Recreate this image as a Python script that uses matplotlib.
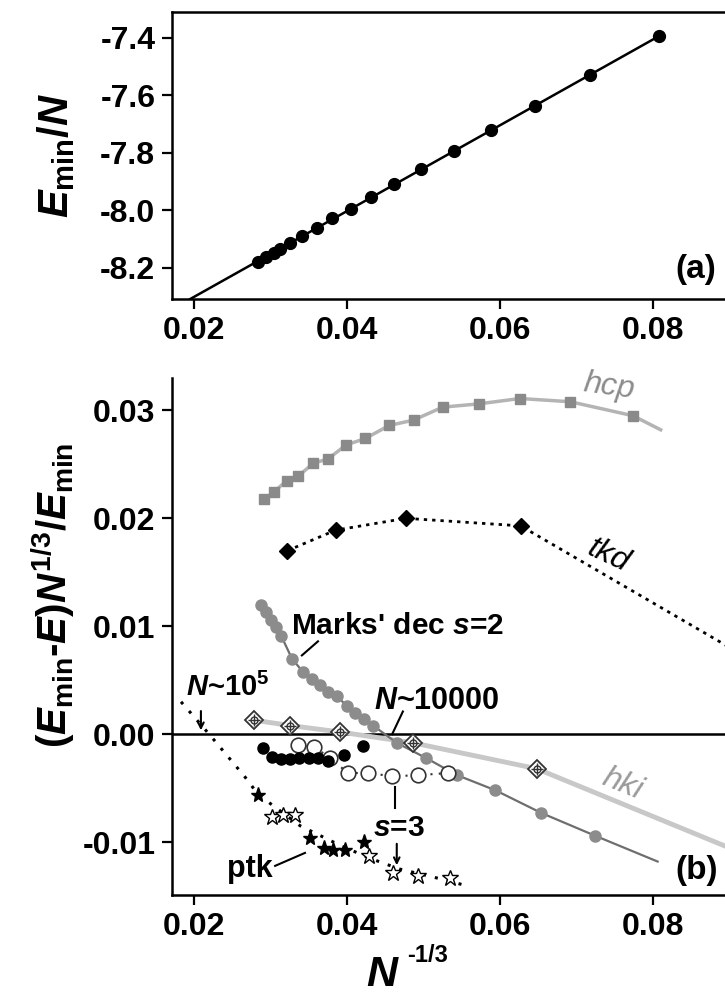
import numpy as np
import matplotlib
matplotlib.use("Agg")
import matplotlib.pyplot as plt

plt.rcParams["font.family"] = ["Liberation Sans", "DejaVu Sans"]
plt.rcParams["font.weight"] = "bold"
plt.rcParams["axes.unicode_minus"] = False
plt.rcParams["mathtext.fontset"] = "custom"
plt.rcParams["mathtext.it"] = "Liberation Sans:italic:bold"
plt.rcParams["mathtext.rm"] = "Liberation Sans:bold"
plt.rcParams["mathtext.bf"] = "Liberation Sans:bold"

# ---- panel (a): E_min/N vs N^-1/3
a_x = [0.0283, 0.0294, 0.0304, 0.0312, 0.0325, 0.0341, 0.0361, 0.0381, 0.0405,
       0.0431, 0.0462, 0.0497, 0.0540, 0.0588, 0.0646, 0.0718, 0.0808]
a_y = [-8.179, -8.162, -8.147, -8.133, -8.113, -8.090, -8.061, -8.028, -7.994,
       -7.955, -7.909, -7.857, -7.793, -7.721, -7.637, -7.528, -7.394]
a_fit_start = 0.0195

# ---- panel (b)
hcp_x = [0.0292, 0.0304, 0.0321, 0.0336, 0.0356, 0.0375, 0.0399, 0.0424, 0.0455,
         0.0487, 0.0525, 0.0572, 0.0626, 0.0692, 0.0774]
hcp_y = [0.0218, 0.0224, 0.0235, 0.0239, 0.0251, 0.0255, 0.0268, 0.0274, 0.0286,
         0.0291, 0.0303, 0.0306, 0.0311, 0.0308, 0.0295]
hcp_end = (0.0810, 0.0282)

tkd_x = [0.0322, 0.0385, 0.0477, 0.0627, 0.0930]
tkd_y = [0.0170, 0.0189, 0.0200, 0.0193, 0.0068]

marks_x = [0.0288, 0.0294, 0.0301, 0.0307, 0.0314, 0.0328, 0.0342, 0.0354, 0.0365,
           0.0375, 0.0387, 0.0400, 0.0410, 0.0422, 0.0434, 0.0465, 0.0503, 0.0544,
           0.0594, 0.0654, 0.0724]
marks_y = [0.0120, 0.0113, 0.0106, 0.0099, 0.0091, 0.0070, 0.0058, 0.0051, 0.0046,
           0.0039, 0.0035, 0.0026, 0.0020, 0.0014, 0.0008, -0.0008, -0.0022, -0.0038,
           -0.0052, -0.0073, -0.0094]
marks_end = (0.0806, -0.0118)

hki_x = [0.0278, 0.0326, 0.0391, 0.0486, 0.0648, 0.0940]
hki_y = [0.0013, 0.0008, 0.0002, -0.0008, -0.0032, -0.0117]

black_x = [0.0290, 0.0302, 0.0314, 0.0326, 0.0337, 0.0350, 0.0362, 0.0375, 0.0396, 0.0421]
black_y = [-0.0013, -0.0021, -0.0023, -0.0023, -0.0022, -0.0022, -0.0022, -0.0025,
           -0.0019, -0.0011]

s3_x = [0.0336, 0.0357, 0.0378, 0.0401, 0.0428, 0.0459, 0.0493, 0.0532]
s3_y = [-0.0010, -0.0012, -0.0022, -0.0036, -0.0036, -0.0039, -0.0038, -0.0036]

ptk_fill_x = [0.0284, 0.0352, 0.0370, 0.0382, 0.0397, 0.0422]
ptk_fill_y = [-0.0056, -0.0096, -0.0105, -0.0107, -0.0107, -0.0100]
ptk_open_x = [0.0302, 0.0316, 0.0332, 0.0429, 0.0460, 0.0493, 0.0535]
ptk_open_y = [-0.0077, -0.0075, -0.0075, -0.0113, -0.0129, -0.0131, -0.0133]

ptk_curve_x = [0.0183, 0.0221, 0.0267, 0.0284, 0.0339, 0.0391, 0.0430, 0.0469, 0.0522, 0.0554]
ptk_curve_y = [0.0030, -0.0001, -0.0040, -0.0056, -0.0085, -0.0103, -0.0115, -0.0125,
               -0.0134, -0.0140]

W, H = 725, 997
fig = plt.figure(figsize=(W / 100, H / 100), dpi=100)

XMIN, XMAX = 0.01712, 0.0905
px_per_unit = 7650
ax_w = (XMAX - XMIN) * px_per_unit / W
ax_a = fig.add_axes([172 / W, 1 - 299 / H, ax_w, 287 / H])
ax_b = fig.add_axes([172 / W, 1 - 895 / H, ax_w, 517 / H])

for ax in (ax_a, ax_b):
    ax.set_xlim(XMIN, XMAX)
    ax.set_xticks([0.02, 0.04, 0.06, 0.08])
    ax.set_xticklabels(["0.02", "0.04", "0.06", "0.08"])
    ax.tick_params(direction="out", length=7, width=1.6, labelsize=23, pad=5)
    for sp in ax.spines.values():
        sp.set_linewidth(1.8)

# panel (a)
ax_a.set_ylim(-8.308, -7.31)
ax_a.set_yticks([-8.2, -8.0, -7.8, -7.6, -7.4])
ax_a.set_yticklabels(["-8.2", "-8.0", "-7.8", "-7.6", "-7.4"])
coef = np.polyfit(a_x, a_y, 1)
fx = np.array([a_fit_start, max(a_x)])
ax_a.plot(fx, np.polyval(coef, fx), color="black", lw=1.8, zorder=2)
ax_a.plot(a_x, a_y, "o", color="black", ms=8.5, zorder=3)
ax_a.text(0.0829, -8.207, "(a)", fontsize=24, va="center", ha="left")

# panel (b)
ax_b.set_ylim(-0.0149, 0.0330)
ax_b.set_yticks([-0.01, 0.0, 0.01, 0.02, 0.03])
ax_b.set_yticklabels(["-0.01", "0.00", "0.01", "0.02", "0.03"])
ax_b.spines["top"].set_visible(False)
ax_b.axhline(0, color="black", lw=1.8, zorder=1)

# hcp
ax_b.plot(hcp_x + [hcp_end[0]], hcp_y + [hcp_end[1]], color="#b4b4b4", lw=2.5, zorder=2)
ax_b.plot(hcp_x, hcp_y, "s", color="#8a8a8a", ms=7, zorder=3)
# tkd
ax_b.plot(tkd_x, tkd_y, color="black", lw=2, ls=(0, (1.2, 1.8)), zorder=2)
ax_b.plot(tkd_x, tkd_y, "D", color="black", ms=8.5, zorder=3)
# hki
ax_b.plot(hki_x, hki_y, color="#c8c8c8", lw=3.5, zorder=2)
ax_b.plot(hki_x, hki_y, "D", mfc="white", mec="#333333", mew=1.3, ms=9, ls="none", zorder=4)
ax_b.plot(hki_x, hki_y, "o", mfc="none", mec="#333333", mew=1.0, ms=5, ls="none", zorder=4)
ax_b.plot(hki_x, hki_y, "+", color="#333333", mew=1.0, ms=9, ls="none", zorder=4)
# Marks' decahedra s=2
ax_b.plot(marks_x + [marks_end[0]], marks_y + [marks_end[1]], color="#6e6e6e", lw=1.6, zorder=2)
ax_b.plot(marks_x, marks_y, "o", color="#8c8c8c", ms=8, zorder=3)
# s=3 open circles
ax_b.plot(s3_x, s3_y, color="#333333", lw=1.5, ls=(0, (1, 3)), zorder=2)
ax_b.plot(s3_x, s3_y, "o", mfc="white", mec="#333333", mew=1.2, ms=10.5, ls="none", zorder=3)
# black circles
ax_b.plot(black_x, black_y, "o", color="black", ms=8, ls="none", zorder=4)
# ptk
ax_b.plot(ptk_curve_x, ptk_curve_y, color="black", lw=2.2, ls=(0, (1, 3)), zorder=2)
ax_b.plot(ptk_open_x, ptk_open_y, "*", mfc="white", mec="black", mew=1.0, ms=12, ls="none", zorder=3)
ax_b.plot(ptk_fill_x, ptk_fill_y, "*", color="black", ms=11, ls="none", zorder=4)

# curve labels
ax_b.text(0.0743, 0.0322, "hcp", color="#8c8c8c", fontsize=23, style="italic",
          weight="normal", rotation=-8, ha="center", va="center")
ax_b.text(0.0741, 0.0165, "tkd", color="black", fontsize=23, style="italic",
          weight="normal", rotation=-25, ha="center", va="center")
ax_b.text(0.0760, -0.0046, "hki", color="#9a9a9a", fontsize=23, style="italic",
          weight="normal", rotation=-22, ha="center", va="center")

ax_b.text(0.0327, 0.0100, "Marks' dec $s$=2", fontsize=21.5, va="center", ha="left")
ax_b.plot([0.0362, 0.0341], [0.0086, 0.0073], color="black", lw=1.5)

ax_b.text(0.0190, 0.0043, r"$N$~10$^{5}$", fontsize=21, va="center", ha="left")
ax_b.annotate("", xy=(0.0209, 0.0001), xytext=(0.0209, 0.0024),
              arrowprops=dict(arrowstyle="->", lw=1.5, color="black"))

ax_b.text(0.0435, 0.0031, r"$N$~10000", fontsize=22, va="center", ha="left")
ax_b.plot([0.0473, 0.0459], [0.0021, 0.0], color="black", lw=1.5)

ax_b.text(0.0434, -0.0087, r"$s$=3", fontsize=21.5, va="center", ha="left")
ax_b.plot([0.0463, 0.0463], [-0.0049, -0.0068], color="black", lw=1.5)
ax_b.annotate("", xy=(0.0465, -0.0124), xytext=(0.0465, -0.0099),
              arrowprops=dict(arrowstyle="->", lw=1.5, color="black"))

ax_b.text(0.0243, -0.0125, "ptk", fontsize=22, va="center", ha="left")
ax_b.plot([0.0306, 0.0345], [-0.0122, -0.0110], color="black", lw=1.5)

ax_b.text(0.0829, -0.01266, "(b)", fontsize=24, va="center", ha="left")

# axis labels
fig.text(56 / W, 1 - 155 / H, r"$E_{\mathrm{min}}/N$", rotation=90, fontsize=30,
         ha="center", va="center")
fig.text(53 / W, 1 - 595 / H, r"$(E_{\mathrm{min}}$-$E)N^{\mathrm{1/3}}/E_{\mathrm{min}}$",
         rotation=90, fontsize=29, ha="center", va="center")
fig.text(383 / W, 1 - 975 / H, r"$N$", fontsize=31, ha="center", va="center")
fig.text(407 / W, 1 - 955 / H, "-1/3", fontsize=17, ha="left", va="center")

fig.savefig("out.png", dpi=100)
